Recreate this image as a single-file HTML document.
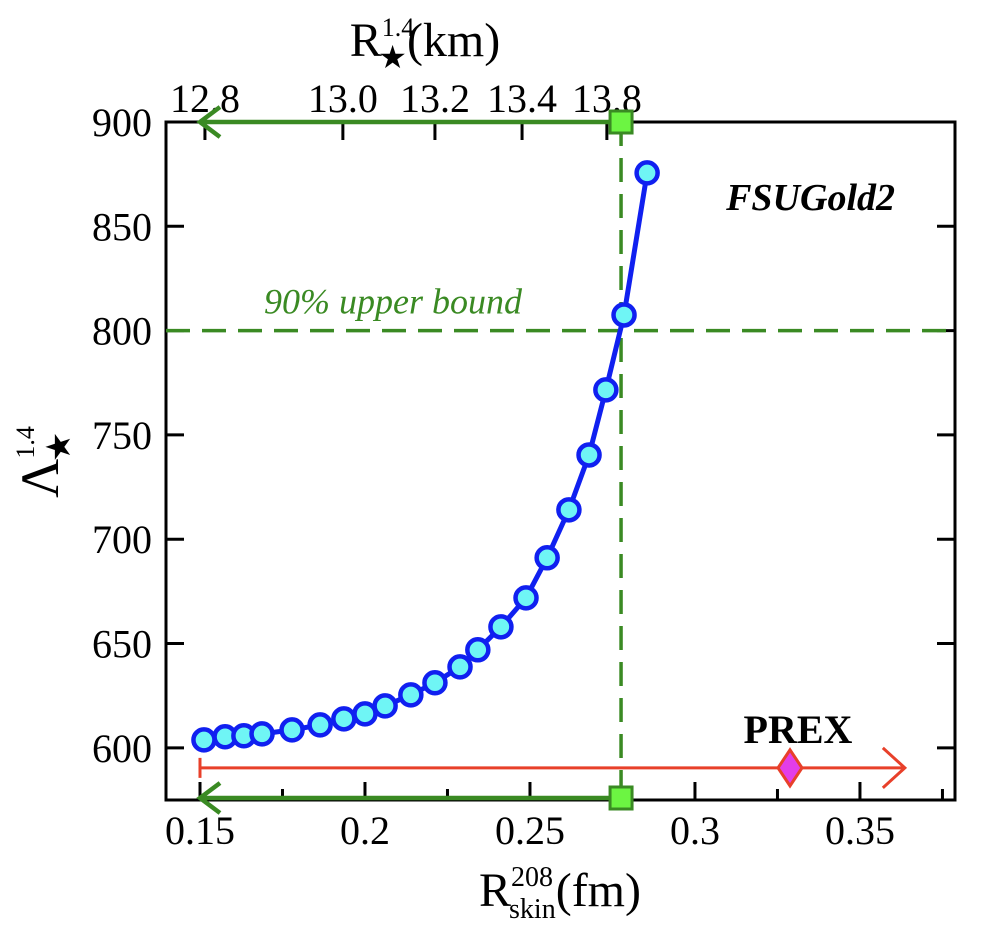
<!DOCTYPE html>
<html><head><meta charset="utf-8"><style>
html,body{margin:0;padding:0;background:#fff;}
svg{display:block;font-family:"Liberation Serif",serif;}
</style></head><body>
<svg id="chart" width="986" height="932" viewBox="0 0 986 932" xmlns="http://www.w3.org/2000/svg"></svg>
<script>
const skinValues=[0.1512,0.1576,0.1633,0.1688,0.1779,0.1864,0.1936,0.2,0.2061,0.2139,0.2212,0.2288,0.2342,0.2412,0.2488,0.2552,0.2618,0.2679,0.2730,0.2785,0.2855];
const lambdaValues=[603.8,605.3,605.8,606.7,608.6,611.0,613.9,616.3,620.1,625.4,631.2,638.8,647.0,658.0,671.9,691.1,714.1,740.4,771.6,807.5,875.6];
const xTicks=[0.15,0.2,0.25,0.3,0.35];
const xTickLabels=["0.15","0.2","0.25","0.3","0.35"];
const yTicks=[600,650,700,750,800,850,900];
const topTickLabels=["12.8","13.0","13.2","13.4","13.8"];
const topTickSkin=[0.1515,0.1933,0.2212,0.2476,0.2733];
const boundSkin=0.2776, boundLambda=800, maxLambda=900;
const prexValue=0.3288, prexEnd=0.3636, prexStart=0.15, prexLambda=590.4;

const L=166,R=955,T=122,B=800;
const X0=0.1397,X1=0.3788,Y0=575,Y1=900;
const sx=v=>L+(v-X0)/(X1-X0)*(R-L);
const sy=v=>B-(v-Y0)/(Y1-Y0)*(B-T);
const svg=document.getElementById('chart');
const NS='http://www.w3.org/2000/svg';
function mk(tag,attrs,parent){const e=document.createElementNS(NS,tag);for(const k in attrs)e.setAttribute(k,attrs[k]);(parent||svg).appendChild(e);return e;}

let f=mk('rect',{x:L,y:T,width:R-L,height:B-T,fill:'none',stroke:'#000','stroke-width':3});



for(let i=0;i<xTicks.length;i++){
  const x=sx(xTicks[i]);
  let t=mk('line',{x1:x,x2:x,y1:B,y2:B-18,stroke:'#000','stroke-width':3});
  
  
  let lb=mk('text',{x:x,y:B+44,'font-size':40,'text-anchor':'middle'});
  lb.textContent=xTickLabels[i];
  
  
}
for(let v=0.175;v<X1;v+=0.05){
  const x=sx(v);
  let t=mk('line',{x1:x,x2:x,y1:B,y2:B-11,stroke:'#000','stroke-width':3});
  
  
}
for(const v of yTicks){
  const y=sy(v);
  let t=mk('line',{x1:L,x2:L+18,y1:y,y2:y,stroke:'#000','stroke-width':3});
  
  
  let t2=mk('line',{x1:R,x2:R-18,y1:y,y2:y,stroke:'#000','stroke-width':3});
  
  
  let lb=mk('text',{x:L-14,y:y+14,'font-size':40,'text-anchor':'end'});
  lb.textContent=v;
  
  
}
for(let i=0;i<topTickLabels.length;i++){
  const x=sx(topTickSkin[i]);
  let t=mk('line',{x1:x,x2:x,y1:T,y2:T+18,stroke:'#000','stroke-width':3});
  
  
  let lb=mk('text',{x:x,y:T-10,'font-size':40,'text-anchor':'middle'});
  lb.textContent=topTickLabels[i];
  
  
}
let xt=mk('text',{x:560,y:906,'font-size':48,'text-anchor':'middle'});
xt.innerHTML='R<tspan font-size="28" dy="-20">208</tspan><tspan font-size="28" dx="-44" dy="32">skin</tspan><tspan dy="-12">(fm)</tspan>';


let tt=mk('text',{x:425,y:56,'font-size':48,'text-anchor':'middle'});
tt.innerHTML='R<tspan font-size="26" dy="-20">1.4</tspan><tspan font-size="32" dx="-36" dy="32">★</tspan><tspan dy="-12">(km)</tspan>';


let yt=mk('text',{x:58,y:462,'font-size':54,'text-anchor':'middle',transform:'rotate(-90 58 462)'});
yt.innerHTML='Λ<tspan font-size="26" dy="-24">1.4</tspan><tspan font-size="34" dx="-36" dy="36">★</tspan>';



const G='#3a8a23';
let hd=mk('line',{x1:L,x2:R,y1:sy(boundLambda),y2:sy(boundLambda),stroke:G,'stroke-width':3.5,'stroke-dasharray':'24 12'});


let vd=mk('line',{x1:sx(boundSkin),x2:sx(boundSkin),y1:T,y2:B,stroke:G,'stroke-width':3.5,'stroke-dasharray':'24 12'});


let ub=mk('text',{x:393,y:sy(boundLambda)-17,'font-size':36,'font-style':'italic',fill:G,'text-anchor':'middle'});
ub.textContent='90% upper bound';



function arrow(y,name){
  const x0=sx(prexStart);
  let a=mk('path',{d:`M${sx(boundSkin)} ${y} L${x0} ${y} M${x0+20} ${y-15} L${x0} ${y} L${x0+20} ${y+15}`,stroke:G,'stroke-width':4.5,fill:'none'});
  
  
  let s=mk('rect',{x:sx(boundSkin)-11,y:y-11,width:22,height:22,fill:'#6cf542',stroke:G,'stroke-width':3});
  
  
}
arrow(sy(maxLambda),'top-green-arrow');
arrow(B-2,'bottom-green-arrow');

const RC='#e8402a', py=sy(prexLambda);
let pl=mk('path',{d:`M${sx(prexStart)} ${py-10} L${sx(prexStart)} ${py+10} M${sx(prexStart)} ${py} L${sx(prexEnd)} ${py} M${sx(prexEnd)-22} ${py-20} L${sx(prexEnd)} ${py} L${sx(prexEnd)-22} ${py+20}`,stroke:RC,'stroke-width':3,fill:'none'});


const dx=sx(prexValue);
let dm=mk('path',{d:`M${dx} ${py-18} L${dx+12} ${py} L${dx} ${py+18} L${dx-12} ${py} Z`,fill:'#e33de8',stroke:RC,'stroke-width':3});


let pt=mk('text',{x:798,y:743,'font-size':40,'font-weight':'bold','text-anchor':'middle'});
pt.textContent='PREX';



const pts=skinValues.map((v,i)=>sx(v)+','+sy(lambdaValues[i])).join(' ');
let ln=mk('polyline',{points:pts,fill:'none',stroke:'#1020f0','stroke-width':5});


for(let i=0;i<skinValues.length;i++){
  let c=mk('circle',{cx:sx(skinValues[i]),cy:sy(lambdaValues[i]),r:10.5,fill:'#6ff5f5',stroke:'#1020f0','stroke-width':4.5});
  
  
}
let mt=mk('text',{x:895,y:210,'font-size':38,'font-weight':'bold','font-style':'italic','text-anchor':'end'});
mt.textContent='FSUGold2';


</script>
</body></html>
